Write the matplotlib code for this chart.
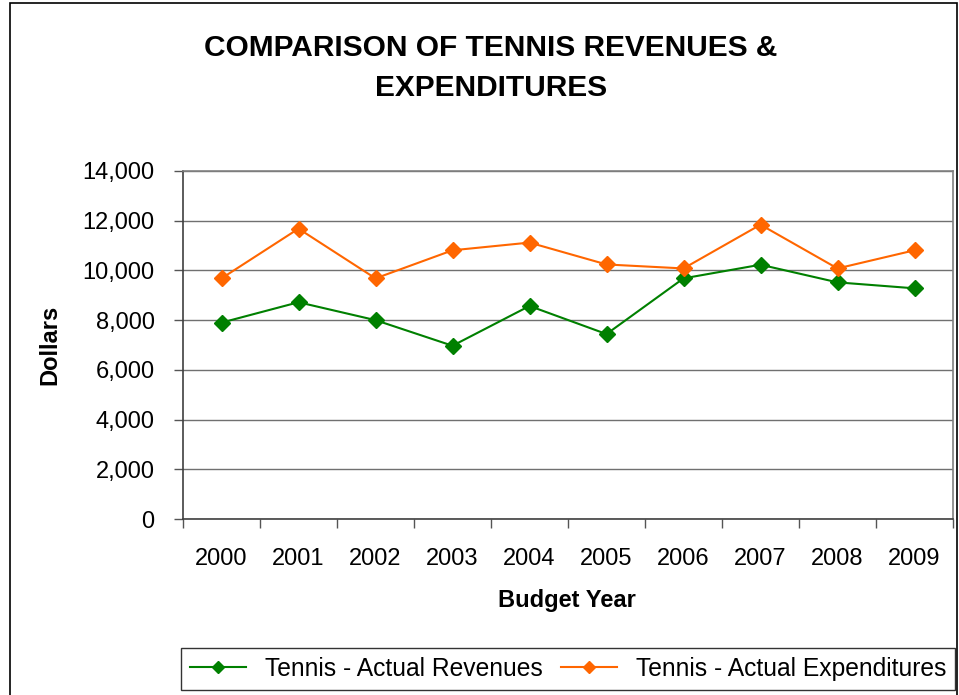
import matplotlib
matplotlib.use("Agg")
import matplotlib.pyplot as plt
from matplotlib.patches import Rectangle
from matplotlib.ticker import FuncFormatter, MultipleLocator

plt.rcParams["font.family"] = ["Liberation Sans", "DejaVu Sans"]

years = ["2000", "2001", "2002", "2003", "2004", "2005", "2006", "2007", "2008", "2009"]
revenues = [7900, 8720, 8000, 6970, 8570, 7440, 9680, 10230, 9520, 9280]
expenditures = [9680, 11680, 9680, 10810, 11120, 10240, 10080, 11840, 10080, 10810]

W, H = 959, 695
fig = plt.figure(figsize=(W / 100, H / 100), dpi=100)
ax = fig.add_axes([183 / W, 1 - 519 / H, 770 / W, 348 / H])

x = list(range(len(years)))
ax.plot(x, revenues, color="#008000", marker="D", markersize=8.5, linewidth=1.5,
        label="Tennis - Actual Revenues")
ax.plot(x, expenditures, color="#FF6600", marker="D", markersize=8.5, linewidth=1.5,
        label="Tennis - Actual Expenditures")

ax.set_xlim(-0.5, len(years) - 0.5)
ax.set_ylim(0, 14000)
ax.yaxis.set_major_locator(MultipleLocator(2000))
ax.yaxis.set_major_formatter(FuncFormatter(lambda v, p: f"{int(v):,}"))
ax.set_xticks(x)
ax.set_xticklabels(years)
ax.set_xticks([i - 0.5 for i in range(len(years) + 1)], minor=True)
ax.tick_params(axis="x", which="major", length=0, pad=21, labelsize=17)
ax.tick_params(axis="x", which="minor", length=6.5, width=1, color="#555555")
ax.tick_params(axis="y", length=6.5, width=1, color="#555555", labelsize=17, pad=14)

ax.grid(axis="y", color="#707070", linewidth=1)
ax.set_axisbelow(True)
for side in ["top", "right"]:
    ax.spines[side].set_color("#808080")
    ax.spines[side].set_linewidth(1.2)
for side in ["left", "bottom"]:
    ax.spines[side].set_color("#404040")
    ax.spines[side].set_linewidth(1.2)

fig.text(50 / W, 1 - 345 / H, "Dollars", rotation=90, ha="center", va="center",
         fontsize=17, fontweight="bold")
fig.text(567 / W, 1 - 600 / H, "Budget Year", ha="center", va="center",
         fontsize=17, fontweight="bold")

fig.text(491 / W, 1 - 48 / H, "COMPARISON OF TENNIS REVENUES &",
         ha="center", va="center", fontsize=21.5, fontweight="bold")
fig.text(491 / W, 1 - 88 / H, "EXPENDITURES",
         ha="center", va="center", fontsize=21.5, fontweight="bold")

leg = fig.legend(loc="center", bbox_to_anchor=(568 / W, 1 - 669 / H), ncol=2,
                 fontsize=17.7, frameon=True, fancybox=False, handlelength=2.3,
                 handletextpad=0.75, columnspacing=0.75, borderpad=0.35,
                 borderaxespad=0, markerscale=0.72)
leg.get_frame().set_edgecolor("black")
leg.get_frame().set_linewidth(1)

fig.patches.append(Rectangle((10 / W, -0.05), 947 / W, 1.05 - 3 / H,
                             transform=fig.transFigure, fill=False,
                             edgecolor="black", linewidth=1.2))

fig.savefig("out.png", dpi=100)
